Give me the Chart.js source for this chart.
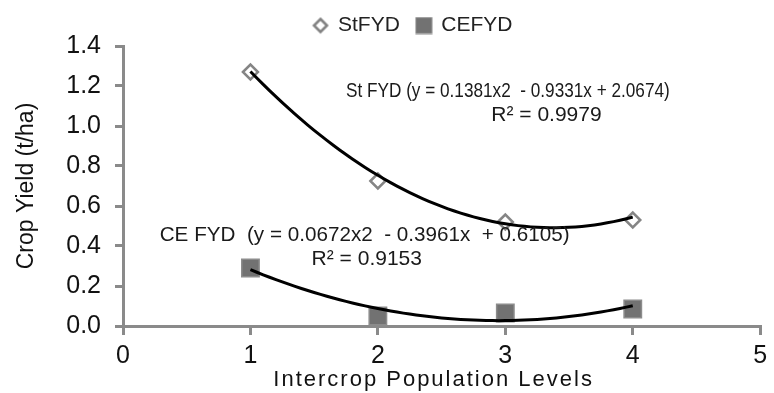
<!DOCTYPE html>
<html><head><meta charset="utf-8">
<script src="https://cdn.jsdelivr.net/npm/chart.js@4.4.0/dist/chart.umd.min.js"></script>
<style>html,body{margin:0;padding:0;background:#fff;}</style>
</head><body>
<canvas id="c" width="774" height="393" style="width:774px;height:393px;display:block"></canvas>
<script>
// ---- data ----
const levels = [1, 2, 3, 4];
const stFYD = [1.27, 0.725, 0.52, 0.53];
const ceFYD = [0.29, 0.05, 0.065, 0.085];
const stTrendCoef = [0.1381, -0.9331, 2.0674];   // a x^2 + b x + c (as printed)
const ceTrendCoef = [0.0672, -0.3961, 0.6105];
const seriesNames = ['StFYD', 'CEFYD'];
const xTickValues = [0, 1, 2, 3, 4, 5];
const yTickValues = [0.0, 0.2, 0.4, 0.6, 0.8, 1.0, 1.2, 1.4];
const stEquation = ['St FYD (y = 0.1381x2  - 0.9331x + 2.0674)', 'R\u00b2 = 0.9979'];
const ceEquation = ['CE FYD  (y = 0.0672x2  - 0.3961x  + 0.6105)', 'R\u00b2 = 0.9153'];
const xTitle = 'Intercrop Population Levels';
const yTitle = 'Crop Yield (t/ha)';

// trendline points from printed coefficients
function trend(coef) {
  const pts = [];
  const x0 = levels[0], x1 = levels[levels.length - 1];
  const n = 60;
  for (let i = 0; i <= n; i++) {
    const x = x0 + (x1 - x0) * i / n;
    pts.push({x, y: coef[0] * x * x + coef[1] * x + coef[2]});
  }
  return pts;
}

const FONT = "'Liberation Sans', Arial, sans-serif";

function legendIcon(kind) {
  const c = document.createElement('canvas');
  c.width = 18; c.height = 18;
  const g = c.getContext('2d');
  if (kind === 'diamond') {
    g.beginPath();
    g.moveTo(9, 2.5); g.lineTo(15.5, 9); g.lineTo(9, 15.5); g.lineTo(2.5, 9); g.closePath();
    g.fillStyle = '#fff'; g.fill();
    g.lineWidth = 2.5; g.strokeStyle = '#808080'; g.stroke();
  } else {
    g.fillStyle = '#727272'; g.fillRect(1, 1, 16, 16);
    g.lineWidth = 1; g.strokeStyle = '#8c8c8c'; g.strokeRect(1, 1, 16, 16);
  }
  return c;
}
const legendIcons = [legendIcon('diamond'), legendIcon('square')];

// label boxes given in data coordinates: [text, xStart, xEnd(or null), yCenter]
const labelBoxes = [
  [stEquation[0], 1.75, 4.29, 1.172],
  [stEquation[1], 2.89, null, 1.055],
  [ceEquation[0], 0.288, 3.505, 0.455],
  [ceEquation[1], 1.48, null, 0.335]
];

const annotations = {
  id: 'annotations',
  afterDatasetsDraw(chart) {
    const {ctx, scales: {x, y}} = chart;
    ctx.save();
    ctx.font = '21px ' + FONT;
    ctx.fillStyle = '#1a1a1a';
    ctx.textBaseline = 'middle';
    ctx.textAlign = 'left';
    labelBoxes.forEach(([t, xs, xe, yc]) => {
      const px = x.getPixelForValue(xs);
      if (xe !== null) ctx.fillText(t, px, y.getPixelForValue(yc), x.getPixelForValue(xe) - px);
      else ctx.fillText(t, px, y.getPixelForValue(yc));
    });
    ctx.restore();
  }
};

const tweaks = {
  id: 'tweaks',
  afterLayout(chart) {
    if (chart.legend) { chart.legend.left += 27; chart.legend.right += 27; }
    const xs = chart.scales.x;
    if (xs && !xs._patchedTitle) {
      const orig = xs.drawTitle;
      xs.drawTitle = function () {
        const c = this.ctx;
        c.save();
        c.letterSpacing = '2px';
        c.translate(-8, 0);
        orig.call(this);
        c.restore();
      };
      xs._patchedTitle = true;
    }
  }
};

new Chart(document.getElementById('c'), {
  type: 'scatter',
  data: {
    datasets: [
      { label: seriesNames[0], data: levels.map((x, i) => ({x, y: stFYD[i]})),
        pointStyle: 'rectRot', pointRadius: 7.5, pointHoverRadius: 7.5, borderWidth: 2.5,
        borderColor: '#858585', backgroundColor: '#ffffff', order: 2 },
      { label: seriesNames[1], data: levels.map((x, i) => ({x, y: ceFYD[i]})),
        pointStyle: 'rect', pointRadius: 12.3, pointHoverRadius: 12.3, borderWidth: 1.5,
        borderColor: '#8c8c8c', backgroundColor: '#727272', order: 2 },
      { label: 'stTrend', data: trend(stTrendCoef), showLine: true, pointRadius: 0,
        borderColor: '#000', borderWidth: 3, order: 1 },
      { label: 'ceTrend', data: trend(ceTrendCoef), showLine: true, pointRadius: 0,
        borderColor: '#000', borderWidth: 3, order: 1 }
    ]
  },
  options: {
    responsive: false,
    animation: false,
    devicePixelRatio: 1,
    layout: { padding: { left: 7, right: 9, top: -2, bottom: 0 } },
    plugins: {
      tooltip: { enabled: false },
      legend: {
        position: 'top',
        labels: {
          font: { family: FONT, size: 21 },
          color: '#222',
          usePointStyle: true,
          boxWidth: 14, boxHeight: 14,
          padding: 17,
          filter: (item) => item.datasetIndex < 2,
          generateLabels(chart) {
            const items = Chart.defaults.plugins.legend.labels.generateLabels(chart);
            items.forEach(it => { if (it.datasetIndex < 2) it.pointStyle = legendIcons[it.datasetIndex]; });
            return items;
          }
        }
      }
    },
    scales: {
      x: {
        type: 'linear', min: 0, max: 5,
        afterBuildTicks: (s) => { s.ticks = xTickValues.map(v => ({value: v})); },
        ticks: { font: { family: FONT, size: 25 }, color: '#111', padding: 6 },
        grid: { drawOnChartArea: false, drawTicks: true, tickLength: 9, color: '#8a8a8a', lineWidth: 3 },
        border: { color: '#8a8a8a', width: 3 },
        title: { display: true, text: xTitle, font: { family: FONT, size: 22 }, color: '#111', padding: { top: 0, bottom: 0 } },
        afterFit: (s) => { s.height = 67; }
      },
      y: {
        type: 'linear', min: 0, max: 1.4,
        afterBuildTicks: (s) => { s.ticks = yTickValues.map(v => ({value: v})); },
        ticks: { font: { family: FONT, size: 25 }, color: '#111', padding: 14, callback: (v) => v.toFixed(1) },
        grid: { drawOnChartArea: false, drawTicks: true, tickLength: 8, color: '#8a8a8a', lineWidth: 3 },
        border: { color: '#8a8a8a', width: 3 },
        title: { display: true, text: yTitle, font: { family: FONT, size: 23 }, color: '#111', padding: { top: 6, bottom: 0 } },
        afterFit: (s) => { s.width = 116; }
      }
    }
  },
  plugins: [annotations, tweaks]
});
</script>
</body></html>
